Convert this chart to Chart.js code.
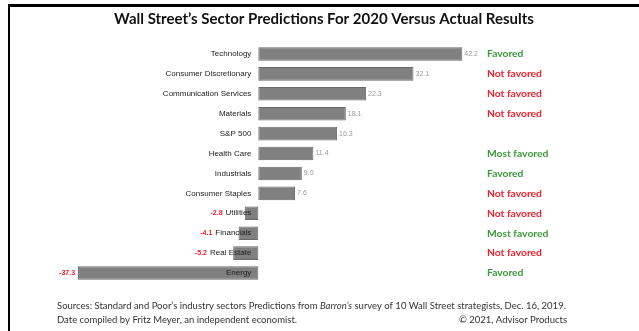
<!DOCTYPE html>
<html>
<head>
<meta charset="utf-8">
<script src="https://cdn.jsdelivr.net/npm/chart.js@4.4.1/dist/chart.umd.min.js"></script>
<style>
  html, body { margin: 0; padding: 0; background: #fff; }
  .wrap { position: relative; width: 639px; height: 331px; overflow: hidden; }
  .frame { position: absolute; left: 8px; top: 4px; right: -10px; bottom: -10px;
           border-top: 3px solid #000; border-left: 2px solid #000; }
  canvas { position: absolute; left: 0; top: 0; }
</style>
</head>
<body>
<div class="wrap">
  <div class="frame"></div>
  <canvas id="sectorChart" width="639" height="331"></canvas>
</div>
<script>
/* ── Data ── */
const sectors  = ['Technology', 'Consumer Discretionary', 'Communication Services', 'Materials',
                  'S&P 500', 'Health Care', 'Industrials', 'Consumer Staples',
                  'Utilities', 'Financials', 'Real Estate', 'Energy'];
const returns  = [42.2, 32.1, 22.3, 18.1, 16.3, 11.4, 9.0, 7.6, -2.8, -4.1, -5.2, -37.3];
const outlook  = ['Favored', 'Not favored', 'Not favored', 'Not favored', '',
                  'Most favored', 'Favored', 'Not favored', 'Not favored',
                  'Most favored', 'Not favored', 'Favored'];

const TITLE   = 'Wall Street\u2019s Sector Predictions For 2020 Versus Actual Results';
const SOURCE  = ['Sources: Standard and Poor\u2019s industry sectors Predictions from ', 'Barron\u2019s',
                 ' survey of 10 Wall Street strategists, Dec. 16, 2019.'];
const NOTE    = 'Date compiled by Fritz Meyer, an independent economist.';
const COPY    = '\u00a9 2021, Advisor Products';

const GREEN = '#3b9a3b';
const RED   = '#e8222c';
const SANS  = "'Liberation Sans', Arial, sans-serif";
const CAL   = "Lato, 'Open Sans', sans-serif";

/* ── Labels plugin ── */
const labelsPlugin = {
  id: 'sectorLabels',
  afterDatasetsDraw(chart) {
    const ctx  = chart.ctx;
    const bars = chart.getDatasetMeta(0).data;
    const zero = chart.scales.x.getPixelForValue(0);

    ctx.save();
    ctx.textBaseline = 'middle';

    bars.forEach((bar, i) => {
      const y = bar.y;
      const v = returns[i];

      // category name, right aligned at the zero line
      ctx.font = '8px ' + SANS;
      ctx.fillStyle = '#1a1a1a';
      ctx.textAlign = 'right';
      const nameRight = zero - 7;
      ctx.fillText(sectors[i], nameRight, y);
      const nameLeft = nameRight - ctx.measureText(sectors[i]).width;

      // value
      ctx.font = '7px ' + SANS;
      const txt = v.toFixed(1);
      if (v >= 0) {
        ctx.fillStyle = '#9a9a9a';
        ctx.textAlign = 'left';
        ctx.fillText(txt, bar.x + 2, y);
      } else {
        ctx.font = 'bold 7px ' + SANS;
        ctx.fillStyle = RED;
        ctx.textAlign = 'right';
        ctx.fillText(txt, Math.min(bar.x, nameLeft) - 3, y);
      }

      // outlook
      if (outlook[i]) {
        ctx.font = 'bold 10.3px ' + CAL;
        ctx.fillStyle = outlook[i] === 'Not favored' ? RED : GREEN;
        ctx.textAlign = 'left';
        ctx.fillText(outlook[i], 487, y);
      }
    });

    // title
    ctx.textAlign = 'center';
    ctx.fillStyle = '#111';
    ctx.font = 'bold 15px ' + CAL;
    ctx.fillText(TITLE, 324, 19);

    // footer
    ctx.fillStyle = '#333';
    ctx.textAlign = 'left';
    let x = 57;
    SOURCE.forEach((part, k) => {
      ctx.font = (k === 1 ? 'italic ' : '') + '9.5px ' + CAL;
      ctx.fillText(part, x, 306);
      x += ctx.measureText(part).width;
    });
    ctx.font = '9.5px ' + CAL;
    ctx.fillText(NOTE, 57, 320);
    ctx.textAlign = 'right';
    ctx.fillText(COPY, 567, 320);

    ctx.restore();
  }
};

/* ── Chart ── */
new Chart(document.getElementById('sectorChart'), {
  type: 'bar',
  data: {
    labels: sectors,
    datasets: [{
      data: returns,
      backgroundColor: '#808080',
      borderColor: '#6a6a6a',
      borderWidth: 1,
      borderSkipped: false,
      barPercentage: 0.68,
      categoryPercentage: 1,
    }]
  },
  options: {
    indexAxis: 'y',
    responsive: false,
    animation: false,
    layout: { padding: { left: 65, right: 139, top: 44, bottom: 48 } },
    plugins: {
      legend: { display: false },
      tooltip: { enabled: false },
    },
    scales: {
      x: { display: false, min: -40, max: 50 },
      y: { display: false },
    }
  },
  plugins: [labelsPlugin]
});
</script>
</body>
</html>
